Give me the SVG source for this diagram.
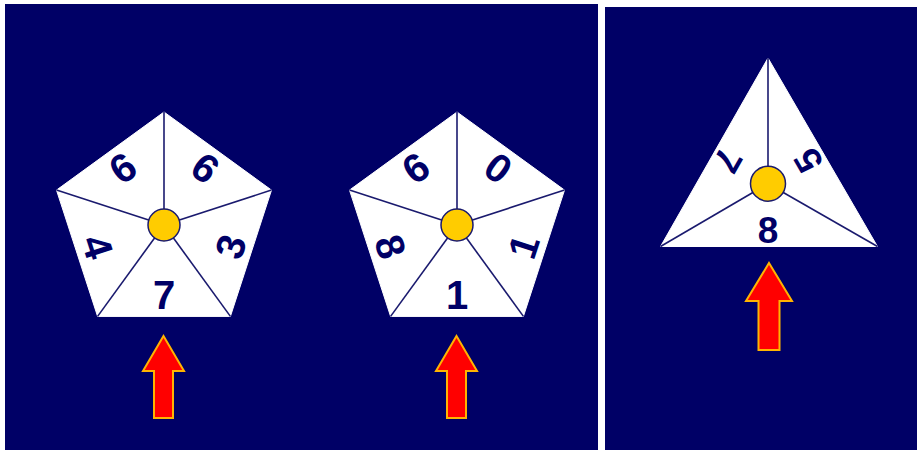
<svg xmlns="http://www.w3.org/2000/svg" width="918" height="450" viewBox="0 0 918 450">
<style>
.panel{fill:#000066}
.face{fill:#ffffff;stroke:#ffffff;stroke-width:1;stroke-linejoin:round}
.div{stroke:#1a1a6e;stroke-width:1.6;fill:none}
.hub{fill:#ffcc00;stroke:#1a1a6e;stroke-width:1.5}
.num{font-family:"Liberation Sans",Arial,sans-serif;font-weight:bold;fill:#000066;text-anchor:middle}
.arrow{fill:#ff0000;stroke:#ffb400;stroke-width:2;stroke-linejoin:miter}
</style>
<rect x="0" y="0" width="918" height="450" fill="#ffffff"/>
<rect class="panel" x="5" y="4" width="593" height="446"/>
<rect class="panel" x="605" y="7" width="312" height="443"/>

<g id="pentagon1">
<polygon class="face" points="164,112 271.5,190.1 230.4,316.4 97.6,316.4 56.5,190.1"/>
<g class="div">
<line x1="164" y1="225" x2="164" y2="112"/>
<line x1="164" y1="225" x2="271.5" y2="190.1"/>
<line x1="164" y1="225" x2="230.4" y2="316.4"/>
<line x1="164" y1="225" x2="97.6" y2="316.4"/>
<line x1="164" y1="225" x2="56.5" y2="190.1"/>
</g>
<g class="num" font-size="40">
<text x="164" y="309">7</text>
<text x="164" y="309" transform="rotate(72 164 225)">4</text>
<text x="164" y="309" transform="rotate(144 164 225)">9</text>
<text x="164" y="309" transform="rotate(216 164 225)">9</text>
<text x="164" y="309" transform="rotate(288 164 225)">3</text>
</g>
<circle class="hub" cx="164" cy="225" r="16"/>
</g>

<g id="pentagon2">
<polygon class="face" points="457,112 564.5,190.1 523.4,316.4 390.6,316.4 349.5,190.1"/>
<g class="div">
<line x1="457" y1="225" x2="457" y2="112"/>
<line x1="457" y1="225" x2="564.5" y2="190.1"/>
<line x1="457" y1="225" x2="523.4" y2="316.4"/>
<line x1="457" y1="225" x2="390.6" y2="316.4"/>
<line x1="457" y1="225" x2="349.5" y2="190.1"/>
</g>
<g class="num" font-size="40">
<text x="457" y="309">1</text>
<text x="457" y="309" transform="rotate(72 457 225)">8</text>
<text x="457" y="309" transform="rotate(144 457 225)">9</text>
<text x="457" y="309" transform="rotate(216 457 225)">0</text>
<text x="457" y="309" transform="rotate(288 457 225)">1</text>
</g>
<circle class="hub" cx="457" cy="225" r="16"/>
</g>

<g id="triangle">
<polygon class="face" points="768,58 877.5,246.5 660.5,246.5"/>
<g class="div">
<line x1="768" y1="183.7" x2="768" y2="58"/>
<line x1="768" y1="183.7" x2="877.5" y2="246.5"/>
<line x1="768" y1="183.7" x2="660.5" y2="246.5"/>
</g>
<g class="num" font-size="37">
<text x="768" y="243">8</text>
<text x="768" y="243" transform="rotate(120 768 183.7)">7</text>
<text x="768" y="243" transform="rotate(240 768 183.7)">5</text>
</g>
<circle class="hub" cx="768" cy="183.7" r="17.5"/>
</g>

<g id="arrow1">
<polygon class="arrow" points="163.5,336 184,371 173,371 173,418 154,418 154,371 143,371"/>
</g>
<g id="arrow2">
<polygon class="arrow" points="456.5,336 477,371 466,371 466,418 447,418 447,371 436,371"/>
</g>
<g id="arrow3">
<polygon class="arrow" points="769,263 792,301 779.5,301 779.5,350 758.5,350 758.5,301 746,301"/>
</g>
</svg>
